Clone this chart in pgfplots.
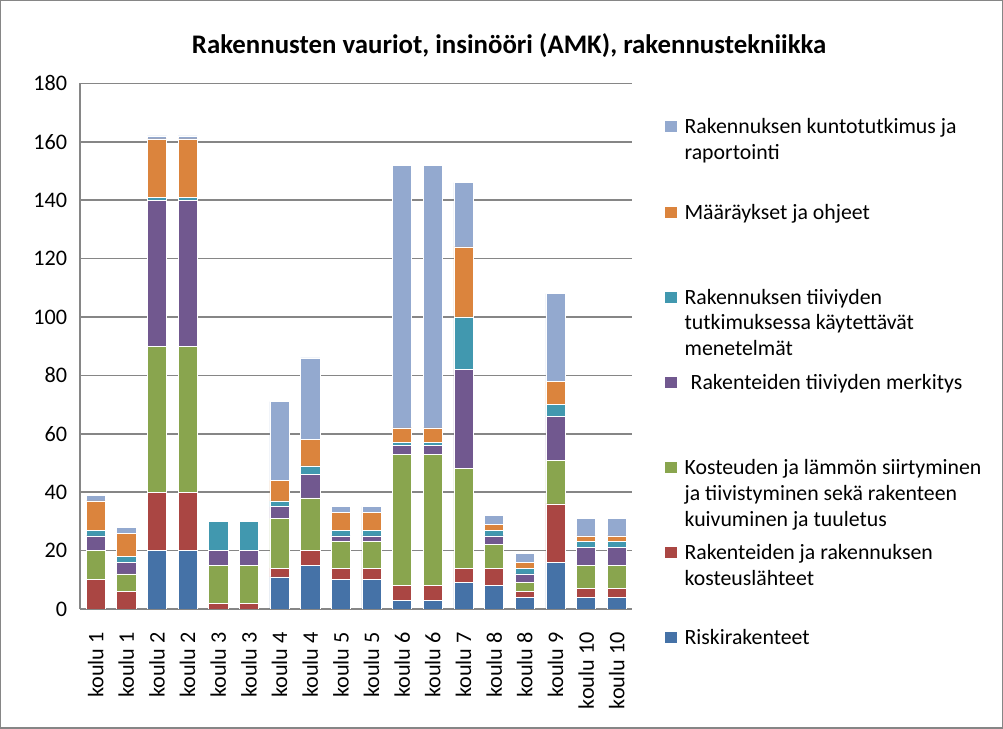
\documentclass[border=0pt]{standalone}
\usepackage{pgfplots}
\pgfplotsset{compat=1.18}
\usepackage{pgfplotstable}
\usepackage{fontspec}
\setmainfont{Carlito}
\definecolor{cBlue}{HTML}{4572A7}
\definecolor{cRed}{HTML}{AA4643}
\definecolor{cGreen}{HTML}{89A54E}
\definecolor{cPurple}{HTML}{71588F}
\definecolor{cTeal}{HTML}{4198AF}
\definecolor{cOrange}{HTML}{DB843D}
\definecolor{cLBlue}{HTML}{93A9CF}
\definecolor{cGrid}{HTML}{868686}
\newcommand{\Ln}[1]{\hbox{\strut #1}}
\pgfplotstableread{
x blue red green purple teal orange lblue
0  0  10 10 5  2  10 2
1  0  6  6  4  2  8  2
2  20 20 50 50 1  20 1
3  20 20 50 50 1  20 1
4  0  2  13 5  10 0  0
5  0  2  13 5  10 0  0
6  11 3  17 4  2  7  27
7  15 5  18 8  3  9  28
8  10 4  9  2  2  6  2
9  10 4  9  2  2  6  2
10 3  5  45 3  1  5  90
11 3  5  45 3  1  5  90
12 9  5  34 34 18 24 22
13 8  6  8  3  2  2  3
14 4  2  3  3  2  2  3
15 16 20 15 15 4  8  30
16 4  3  8  6  2  2  6
17 4  3  8  6  2  2  6
}\datatable
\begin{document}
\begin{tikzpicture}
\draw[cGrid, line width=0.6pt] (-39.5pt,301.5pt) rectangle (457pt,-59pt);
\node[font=\fontsize{13.3}{15}\selectfont\bfseries] at (212.5pt,279pt) {Rakennusten vauriot, insinööri (AMK), rakennustekniikka};
\begin{axis}[
  at={(0pt,0pt)}, anchor=south west,
  scale only axis,
  width=273.5pt, height=260.5pt,
  ybar stacked, bar width=9.5pt,
  xmin=-0.5, xmax=17.5,
  ymin=0, ymax=180,
  ytick={0,20,...,180},
  xtick=data,
  xticklabels={koulu 1,koulu 1,koulu 2,koulu 2,koulu 3,koulu 3,koulu 4,koulu 4,koulu 5,koulu 5,koulu 6,koulu 6,koulu 7,koulu 8,koulu 8,koulu 9,koulu 10,koulu 10},
  xticklabel style={rotate=90, anchor=east, font=\fontsize{11}{13}\selectfont, xshift=-8pt},
  yticklabel style={font=\fontsize{11}{13}\selectfont, xshift=-3pt},
  /pgf/number format/assume math mode=true,
  major tick length=0pt,
  ymajorgrids,
  grid style={cGrid, line width=0.8pt},
  axis line style={cGrid, line width=0.8pt},
  axis x line*=bottom, axis y line*=left,
  every axis plot/.append style={draw=white, line width=0.3pt},
  reverse legend,
  legend style={at={(rel axis cs:1.0585,0.943)}, anchor=north west, draw=none, fill=none,
    font=\fontsize{10.8}{12.8}\selectfont, overlay,
    row sep=0pt, inner sep=0pt, column sep=2pt,
    cells={anchor=base west, inner sep=0pt},
    nodes={text height=8pt, text depth=30.2pt}},
  legend image code/.code={\fill[#1,draw=none] (0pt,0.7pt) rectangle (5.8pt,6.2pt);},
]
\addplot[fill=cBlue] table[x=x,y=blue] {\datatable};
\addlegendentry{\vtop{\Ln{Riskirakenteet}}}
\addplot[fill=cRed] table[x=x,y=red] {\datatable};
\addlegendentry{\vtop{\Ln{Rakenteiden ja rakennuksen}\Ln{kosteuslähteet}}}
\addplot[fill=cGreen] table[x=x,y=green] {\datatable};
\addlegendentry{\vtop{\Ln{Kosteuden ja lämmön siirtyminen}\Ln{ja tiivistyminen sekä rakenteen}\Ln{kuivuminen ja tuuletus}}}
\addplot[fill=cPurple] table[x=x,y=purple] {\datatable};
\addlegendentry{\vtop{\Ln{\hspace*{3pt}Rakenteiden tiiviyden merkitys}}}
\addplot[fill=cTeal] table[x=x,y=teal] {\datatable};
\addlegendentry{\vtop{\Ln{Rakennuksen tiiviyden}\Ln{tutkimuksessa käytettävät}\Ln{menetelmät}}}
\addplot[fill=cOrange] table[x=x,y=orange] {\datatable};
\addlegendentry{\vtop{\Ln{Määräykset ja ohjeet}}}
\addplot[fill=cLBlue] table[x=x,y=lblue] {\datatable};
\addlegendentry{\vtop{\Ln{Rakennuksen kuntotutkimus ja}\Ln{raportointi}}}
\end{axis}
\end{tikzpicture}
\end{document}
